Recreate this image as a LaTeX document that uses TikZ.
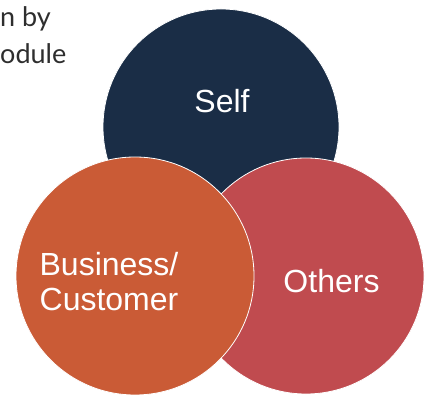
\documentclass[tikz,border=0pt]{standalone}
\usepackage{fontspec}
\setmainfont{Liberation Sans}
\newfontfamily\headfont{Lato}
\definecolor{selfcol}{HTML}{1A2D46}
\definecolor{bizcol}{HTML}{CA5B36}
\definecolor{othcol}{HTML}{C04B4F}
\definecolor{headcol}{HTML}{2E2E2E}
\begin{document}
\begin{tikzpicture}[x=1pt,y=-1pt,
  venn/.style={circle,draw=white,line width=0.8pt,inner sep=0pt},
  label/.style={text=white,font=\fontsize{32}{35}\selectfont,align=center,inner sep=0pt},
  head/.style={text=headcol,font=\headfont\fontsize{27}{37}\selectfont,inner sep=0pt,align=left}]
\useasboundingbox (0,0) rectangle (431,395);
\node[venn,fill=selfcol,minimum size=236pt] (self) at (221,127) {};
\node[venn,fill=othcol,minimum size=236pt] (oth) at (306,276) {};
\node[venn,fill=bizcol,minimum size=238pt] (biz) at (135,276) {};
\node[label,anchor=base] (tself) at (222,113) {Self};
\node[label,anchor=base] (toth) at (331.5,293) {Others};
\node[label,anchor=base] (tbiz) at (109,311) {Business/\\Customer};
\node[head,anchor=base west] (h1) at (0,27) {n by};
\node[head,anchor=base west] (h2) at (0,64) {odule};
\end{tikzpicture}
\end{document}
